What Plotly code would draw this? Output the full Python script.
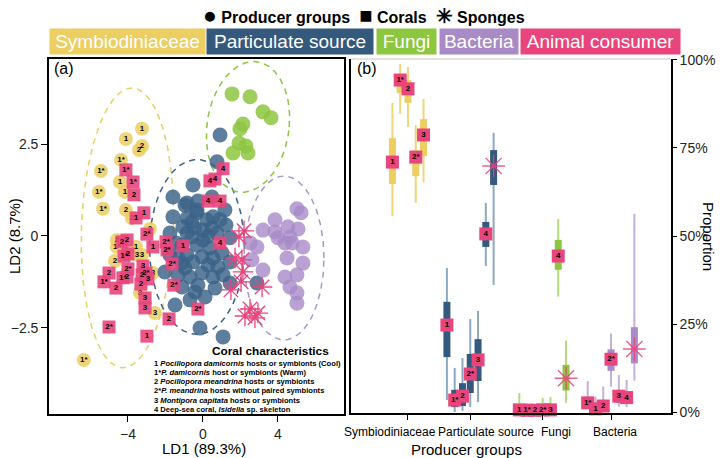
import numpy as np
import plotly.graph_objects as go

# ---------------- Panel (a): LDA scores ----------------
# Symbiodiniaceae producers (labelled circles)
sym_x = [-3.25, -4.11, -3.25, -3.41, -4.37, -5.44, -4.43, -5.55, -4.16, -5.33, -4.11, -3.79,
         -2.83, -4.59, -4.59, -3.57, -3.52, -3.25, -4.69, -2.67, -3.36, -2.56, -6.35]
sym_y = [2.92, 2.64, 2.45, 2.34, 2.07, 1.77, 1.47, 1.20, 1.20, 0.74, 0.71, 0.49,
         0.19, -0.11, -0.30, -0.30, -0.52, -0.52, -0.68, -1.01, -1.55, -2.10, -3.38]
sym_lab = ["1", "1", "2", "2", "1*", "1*", "1", "1*", "1", "1*", "2", "2",
           "2", "2", "1*", "1", "3", "3", "2", "3", "3", "3", "1*"]

# Particulate source producers
par_x = [0.91, 0.75, -0.53, -1.60, -0.96, -0.27, 0.48, 1.17, -1.60, -0.32, 0.21, -0.85,
         -1.07, -0.43, 0.00, 0.48, -1.76, -0.59, 0.00, 0.75, 1.44, -1.12, -0.32, 0.37,
         1.01, -1.76, -0.85, -0.05, 0.53, -1.12, -0.53, 0.27, 0.80, -2.03, -1.33, -0.69,
         -0.05, 0.53, -1.12, 1.44, -0.43, 2.88, -1.49, -0.16, 1.07, -0.85, -0.32, 0.53,
         -0.85, -1.44, 0.64, 0.11, 1.44, -0.69, 1.23, -0.59, 0.27, 0.91, -0.96, -0.27,
         1.07, -1.33]
par_y = [2.75, 2.02, 1.39, 1.06, 0.84, 0.95, 1.06, 0.71, 0.52, 0.63, 0.44, 0.49,
         0.25, 0.22, 0.16, 0.22, 0.08, -0.03, -0.11, 0.08, -0.05, -0.25, -0.25, -0.33,
         -0.46, -0.52, -0.52, -0.57, -0.60, -0.74, -0.71, -0.79, -0.84, -0.98, -1.06, -1.12,
         -1.01, -1.12, -1.39, -1.28, -1.53, -1.28, -1.88, -2.51, -2.75, 0.90, 0.71, 0.52,
         0.08, -0.19, -1.42, -1.66, -0.71, -1.74, 0.30, 0.38, 0.00, 0.44, -0.87, -1.34,
         -1.06, -0.60]

# Fungi producers
fun_x = [1.55, 2.51, 3.20, 3.63, 1.97, 1.92, 2.29, 1.60, 2.40, 2.13]
fun_y = [3.87, 3.79, 3.38, 3.22, 2.92, 2.53, 2.45, 2.26, 2.26, 3.05]

# Bacteria producers
bac_x = [5.01, 5.23, 3.84, 3.20, 3.84, 4.53, 5.07, 4.00, 4.64, 4.75, 5.33, 4.37,
         2.51, 2.88, 2.61, 4.48, 5.33, 3.20, 4.37, 5.01, 4.64, 5.01, 5.01]
bac_y = [0.74, 0.63, 0.44, 0.16, 0.11, 0.25, 0.19, -0.05, -0.03, -0.19, -0.30, -0.19,
         -0.19, -0.30, -0.65, -0.60, -0.74, -0.93, -1.12, -1.06, -1.39, -1.55, -1.83]

# Corals (animal consumers, labelled squares)
cor_x = [-4.11, -3.73, -3.68, -3.57, -3.15, -2.99, -2.67, -1.97, -1.07, 0.37, 0.64, 1.07,
         0.27, 0.91, 0.91, -4.32, -4.05, -4.21, -4.00, -1.92, -1.65, -3.20, -4.00, -5.01,
         -4.27, -4.05, -3.04, -3.25, -2.93, -5.28, -1.55, -3.31, -4.64, -3.09, -3.09, -0.27,
         -1.81, -5.01, -2.99]
cor_y = [1.80, 1.47, 1.12, 0.49, 0.63, 0.05, -0.30, -0.16, -0.27, 1.50, 1.55, 1.83,
         0.95, 0.95, -0.19, -0.16, -0.11, -0.55, -0.49, -0.38, -0.76, -0.82, -0.90, -1.01,
         -1.14, -1.12, -1.01, -1.06, -1.17, -1.25, -1.34, -1.31, -1.42, -1.69, -1.96, -1.99,
         -2.26, -2.48, -2.73]
cor_lab = ["1*", "1*", "2", "1", "1", "2*", "1", "2*", "1", "4", "4", "4",
           "4", "4", "4", "2", "2", "1*", "2", "2*", "2*", "3", "2*", "2",
           "1*", "2", "2*", "2", "3", "1*", "2*", "2", "2", "3", "3", "2*",
           "2", "2*", "1"]

# Sponges (animal consumers, asterisks)
spo_x = [2.19, 1.92, 1.71, 2.08, 2.13, 2.03, 1.49, 3.15, 2.51, 2.24, 2.77, 2.93]
spo_y = [0.14, -0.03, -0.60, -0.65, -0.98, -1.25, -1.47, -1.39, -1.99, -2.18, -2.23, -2.10]

# Group ellipses: centre, half-width, half-height, shear
ell_cx = [-4.03, -0.32, 2.40, 4.32]
ell_cy = [0.22, -0.30, 2.97, -0.60]
ell_ax = [2.45, 2.53, 2.20, 2.13]
ell_ay = [3.81, 2.38, 1.78, 2.23]
ell_k = [-0.24, 0.0, -0.30, 0.0]

# ---------------- Panel (b): mixing-model proportions (%) ----------------
groups = ["Symbiodiniaceae", "Particulate source", "Fungi", "Bacteria"]
b_group = ["Symbiodiniaceae"] * 5 + ["Particulate source"] * 7 + ["Fungi"] * 7 + ["Bacteria"] * 7
b_label = ["1", "1*", "2", "2*", "3",
           "1", "1*", "2", "2*", "3", "4", "S",
           "1", "1*", "2", "2*", "3", "4", "S",
           "1*", "1", "2", "2*", "3", "4", "S"]
b_wlo = [55.7, 84.7, 81.0, 59.4, 65.3,
         3.4, 0.0, 0.3, 1.4, 2.8, 41.5, 36.1,
         0.0, 0.0, 0.0, 0.0, 0.0, 32.8, 2.6,
         0.9, 0.0, 0.3, 7.2, 1.5, 1.4, 8.9]
b_q1 = [64.8, 90.6, 87.8, 67.0, 72.7,
        15.6, 1.4, 1.7, 5.4, 8.8, 46.9, 64.5,
        0.1, 0.1, 0.1, 0.1, 0.1, 40.4, 6.1,
        1.1, 0.2, 0.8, 11.7, 2.6, 2.6, 13.8]
b_med = [71.0, 94.3, 91.8, 72.4, 78.7,
         24.7, 3.4, 4.5, 10.8, 14.8, 50.6, 69.9,
         0.6, 0.5, 0.5, 0.6, 0.6, 44.3, 9.6,
         2.6, 0.9, 1.7, 15.0, 4.5, 4.1, 17.9]
b_q3 = [77.8, 95.7, 94.3, 74.4, 83.2,
        31.3, 6.3, 8.2, 16.5, 20.7, 54.0, 74.4,
        1.0, 0.8, 0.8, 1.0, 1.0, 48.9, 13.4,
        3.4, 1.5, 2.8, 17.8, 5.8, 5.4, 24.1]
b_whi = [87.8, 98.9, 98.0, 81.5, 88.9,
         40.9, 12.5, 15.3, 26.4, 28.7, 59.4, 79.3,
         5.4, 2.6, 2.3, 4.0, 4.3, 54.8, 20.3,
         8.8, 4.4, 7.2, 22.3, 10.5, 9.1, 56.3]
group_pos = [1.0, 1.92, 2.99, 4.0]
prop_ticks = [0, 25, 50, 75, 100]

# ---------------- styling ----------------
W, H = 725, 458
FONT = "Liberation Sans, Arial, sans-serif"
YEL, BLU, GRN, PUR, PINK = "#ECCE62", "#3A6288", "#8DC63F", "#A88BC8", "#E8457C"
WHISK = {"Symbiodiniaceae": "#F0D57A", "Particulate source": "#8EA8C0",
         "Fungi": "#B5D97E", "Bacteria": "#C4B0DA"}
BOXC = {"Symbiodiniaceae": YEL, "Particulate source": "#33597E",
        "Fungi": GRN, "Bacteria": "#A88BC8"}
ELLC = [YEL, "#3A6288", GRN, "#A898C8"]


def pxx(p):
    return p / W


def pxy(p):
    return 1 - p / H


def bold(labels):
    return [f"<b>{s}</b>" for s in labels]


fig = go.Figure()

# ellipses
t = np.linspace(0, 2 * np.pi, 240)
for i in range(4):
    ex = ell_cx[i] + ell_ax[i] * np.cos(t) - ell_k[i] * np.sin(t)
    ey = ell_cy[i] + ell_ay[i] * np.sin(t)
    fig.add_trace(go.Scatter(x=ex, y=ey, mode="lines", xaxis="x", yaxis="y",
                             line=dict(color=ELLC[i], width=1.5, dash="6px,5px"),
                             hoverinfo="skip"))

lab_font = dict(family=FONT, size=8, color="black")
fig.add_trace(go.Scatter(x=sym_x, y=sym_y, mode="markers+text", text=bold(sym_lab),
                         textposition="middle center", textfont=lab_font,
                         marker=dict(size=14, color=YEL, opacity=0.85, line=dict(width=0)),
                         xaxis="x", yaxis="y"))
fig.add_trace(go.Scatter(x=par_x, y=par_y, mode="markers",
                         marker=dict(size=15, color=BLU, opacity=0.82, line=dict(width=0)),
                         xaxis="x", yaxis="y"))
fig.add_trace(go.Scatter(x=fun_x, y=fun_y, mode="markers",
                         marker=dict(size=15, color=GRN, opacity=0.85, line=dict(width=0)),
                         xaxis="x", yaxis="y"))
fig.add_trace(go.Scatter(x=bac_x, y=bac_y, mode="markers",
                         marker=dict(size=15, color=PUR, opacity=0.8, line=dict(width=0)),
                         xaxis="x", yaxis="y"))
fig.add_trace(go.Scatter(x=cor_x, y=cor_y, mode="markers+text", text=bold(cor_lab),
                         textposition="middle center", textfont=lab_font,
                         marker=dict(size=13, symbol="square", color=PINK, opacity=0.9,
                                     line=dict(width=0)),
                         xaxis="x", yaxis="y"))
fig.add_trace(go.Scatter(x=spo_x, y=spo_y, mode="markers",
                         marker=dict(size=17, symbol="asterisk-open", color=PINK,
                                     line=dict(width=1.3, color=PINK)),
                         xaxis="x", yaxis="y"))

# panel (b) boxes
slot = 0.115
bx = []
for i, g in enumerate(b_group):
    members = [j for j, gg in enumerate(b_group) if gg == g]
    k = members.index(i)
    bx.append(group_pos[groups.index(g)] + (k - (len(members) - 1) / 2) * slot)

for g in groups:
    wx, wy, qx, qy = [], [], [], []
    for i, gg in enumerate(b_group):
        if gg != g:
            continue
        wx += [bx[i], bx[i], None]
        wy += [b_wlo[i], b_whi[i], None]
        qx += [bx[i], bx[i], None]
        qy += [b_q1[i], b_q3[i], None]
    fig.add_trace(go.Scatter(x=wx, y=wy, mode="lines", line=dict(color=WHISK[g], width=2),
                             xaxis="x2", yaxis="y2", cliponaxis=False))
    fig.add_trace(go.Scatter(x=qx, y=qy, mode="lines", line=dict(color=BOXC[g], width=7),
                             xaxis="x2", yaxis="y2", cliponaxis=False))

cx_, cy_, cl_ = [], [], []
sx_, sy_ = [], []
for i, lab in enumerate(b_label):
    if lab == "S":
        sx_.append(bx[i]); sy_.append(b_med[i])
    else:
        cx_.append(bx[i]); cy_.append(b_med[i]); cl_.append(lab)
fig.add_trace(go.Scatter(x=cx_, y=cy_, mode="markers+text", text=bold(cl_),
                         textposition="middle center", textfont=lab_font,
                         marker=dict(size=13, symbol="square", color=PINK, line=dict(width=0)),
                         xaxis="x2", yaxis="y2", cliponaxis=False))
fig.add_trace(go.Scatter(x=sx_, y=sy_, mode="markers",
                         marker=dict(size=19, symbol="asterisk-open", color=PINK, opacity=0.85,
                                     line=dict(width=1.4, color=PINK)),
                         xaxis="x2", yaxis="y2", cliponaxis=False))

tickfont = dict(family=FONT, size=14, color="#262626")
fig.update_layout(
    width=W, height=H, margin=dict(l=0, r=0, t=0, b=0, autoexpand=False),
    paper_bgcolor="white", plot_bgcolor="white", showlegend=False,
    xaxis=dict(domain=[pxx(49), pxx(344)], range=[-8.21, 7.52], anchor="y",
               tickvals=[-4, 0, 4], ticktext=["\u22124", "0", "4"], ticks="outside",
               ticklen=6, tickwidth=1.2, tickcolor="black", tickfont=tickfont,
               showline=True, mirror=True, linecolor="black", linewidth=1.6,
               showgrid=False, zeroline=False),
    yaxis=dict(domain=[pxy(414), pxy(59)], range=[-4.85, 4.82], anchor="x",
               tickvals=[-2.5, 0, 2.5], ticktext=["\u22122.5", "0", "2.5"], ticks="outside",
               ticklen=6, tickwidth=1.2, tickcolor="black", tickfont=tickfont,
               showline=True, mirror=True, linecolor="black", linewidth=1.6,
               showgrid=False, zeroline=False),
    xaxis2=dict(domain=[pxx(351), pxx(671)], range=[0.158, 4.886], anchor="y2",
                tickvals=group_pos, ticktext=["", "", "", ""], ticks="outside",
                ticklen=5, tickwidth=1.2, tickcolor="black",
                showline=True, linecolor="black", linewidth=1.6,
                showgrid=False, zeroline=False),
    yaxis2=dict(domain=[pxy(413), pxy(59)], range=[-0.28, 100.28], anchor="x2", side="right",
                tickvals=prop_ticks, ticktext=[f"{v}%" for v in prop_ticks], ticks="outside",
                ticklen=4, tickwidth=1.2, tickcolor="black", tickfont=tickfont,
                showline=True, mirror=True, linecolor="black", linewidth=1.6,
                showgrid=False, zeroline=False),
)

# light top border of panel (b)
fig.add_shape(type="line", xref="paper", yref="paper", x0=pxx(351), x1=pxx(671),
              y0=pxy(59), y1=pxy(59), line=dict(color="#C8C8C8", width=1.2))

ann = []


def add_ann(x, y, text, size, xanchor="center", yanchor="middle", angle=0, **kw):
    d = dict(x=pxx(x), y=pxy(y), xref="paper", yref="paper", showarrow=False,
             xanchor=xanchor, yanchor=yanchor, textangle=angle, text=text,
             font=dict(family=FONT, size=size, color=kw.pop("color", "black")))
    d.update(kw)
    ann.append(d)


# top legend line
add_ann(364, 15,
        '<b><span style="font-size:23px">\u25CF</span> Producer groups  '
        '<span style="font-size:22px">\u25A0</span> Corals  '
        '<span style="font-size:20px">\u2733</span> Sponges</b>', 16)
boxes = [("Symbiodiniaceae", 50, 205, YEL), ("Particulate source", 207, 373, "#35597D"),
         ("Fungi", 377, 436, GRN), ("Bacteria", 440, 518, "#A88BC6"),
         ("Animal consumer", 521, 680, PINK)]
for txt, a, b, c in boxes:
    add_ann((a + b) / 2, 41.5, txt, 19, color="white", bgcolor=c, width=b - a,
            height=25, borderpad=0)
# panel tags
add_ann(52, 69, "(a)", 16, xanchor="left")
add_ann(355, 69, "(b)", 16, xanchor="left")
# axis titles
add_ann(14, 236, "LD2 (8.7%)", 15, angle=-90)
add_ann(204, 448, "LD1 (89.3%)", 15)
add_ann(466, 449, "Producer groups", 15)
add_ann(709, 236, "Proportion", 15, angle=90)
# category labels of panel (b)
cat_lab_x = [390, 486, 556, 615]
for g, xp in zip(groups, cat_lab_x):
    add_ann(xp, 432, g, 12)
# coral characteristics key
add_ann(210, 351, "<b>Coral characteristics</b>", 11.8, xanchor="left")
key_lines = ["1 <i>Pocillopora damicornis</i> hosts or symbionts (Cool)",
             "1*<i>P. damicornis</i> host or symbionts (Warm)",
             "2 <i>Pocillopora meandrina</i> hosts or symbionts",
             "2*<i>P. meandrina</i> hosts without paired symbionts",
             "3 <i>Montipora capitata</i> hosts or symbionts",
             "4 Deep-sea coral, <i>Isidella</i> sp. skeleton"]
for i, line in enumerate(key_lines):
    add_ann(152, 363 + 9.3 * i, "<b>" + line + "</b>", 7.6, xanchor="left")
fig.update_layout(annotations=ann)

fig.write_html("out.html", config={"displayModeBar": False},
               post_script="document.body.style.margin='0px';"
                           "document.documentElement.style.overflow='hidden';")
